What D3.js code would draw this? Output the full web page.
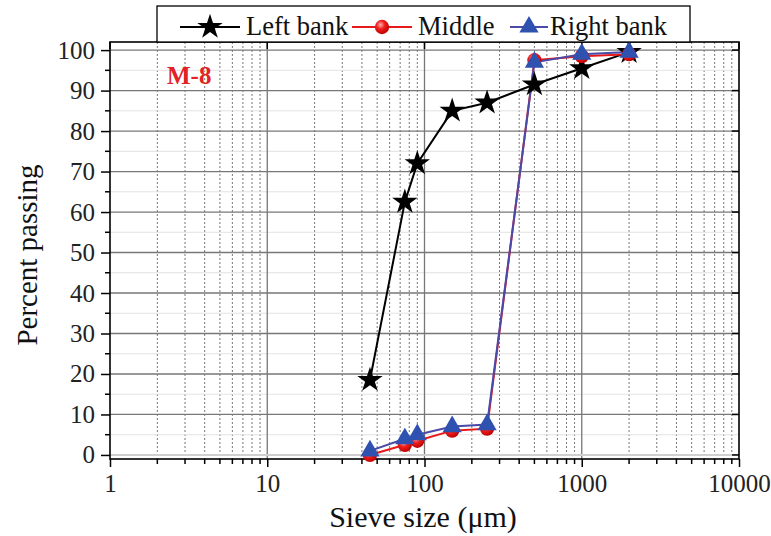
<!DOCTYPE html>
<html><head><meta charset="utf-8">
<script src="https://cdn.jsdelivr.net/npm/d3@7"></script>
<style>body{margin:0;background:#fff}svg{display:block}</style>
</head><body>
<svg id="c" width="771" height="536" font-family="'Liberation Serif', 'Times New Roman', serif"></svg>
<script>
const sieveSizes = [45, 75, 90, 150, 250, 500, 1000, 2000];
const leftBank  = [18.5, 62.5, 72, 85, 87, 91.5, 95.5, 99.5];
const middle    = [0, 2.5, 3.5, 6, 6.5, 97.5, 98.5, 99];
const rightBank = [1, 4, 5, 7, 7.5, 97, 99, 99.5];
const xTicks = [1, 10, 100, 1000, 10000];
const yTicks = [0, 10, 20, 30, 40, 50, 60, 70, 80, 90, 100];
const seriesNames = ["Left bank", "Middle", "Right bank"];

const SERIF = "'Liberation Serif', 'Times New Roman', serif";
const svg = d3.select("#c");
const L = 110, R = 739, T = 42, B = 459;
const x = d3.scaleLog().domain([1, 10000]).range([L, R]);
const y = d3.scaleLinear().domain([-1, 102]).range([B, T]);

const minorX = [];
for (let d = 1; d < 10000; d *= 10) for (let k = 2; k <= 9; k++) minorX.push(d * k);
const minorY = d3.range(5, 100, 10);

const grid = svg.append("g");
grid.selectAll(".mx").data(minorX).join("line")
  .attr("x1", d => x(d)).attr("x2", d => x(d)).attr("y1", T).attr("y2", B)
  .attr("stroke", "#777").attr("stroke-width", 1).attr("stroke-dasharray", "2,2");
grid.selectAll(".my").data(minorY).join("line")
  .attr("x1", L).attr("x2", R).attr("y1", d => y(d)).attr("y2", d => y(d))
  .attr("stroke", "#e2e2e2").attr("stroke-width", 1);
grid.selectAll(".Mx").data(xTicks.slice(1, -1)).join("line")
  .attr("x1", d => x(d)).attr("x2", d => x(d)).attr("y1", T).attr("y2", B)
  .attr("stroke", "#777").attr("stroke-width", 1.3);
grid.selectAll(".My").data(yTicks).join("line")
  .attr("x1", L).attr("x2", R).attr("y1", d => y(d)).attr("y2", d => y(d))
  .attr("stroke", d => d === 0 ? "#cfcfcf" : "#777").attr("stroke-width", d => d === 0 ? 2 : 1.3);

// axes
const xAxis = d3.axisBottom(x).tickValues(xTicks).tickFormat(d3.format("d")).tickSize(8).tickPadding(7);
const gx = svg.append("g").attr("transform", `translate(0,${B})`).call(xAxis);
gx.append("g").selectAll("line").data(minorX).join("line")
  .attr("x1", d => x(d)).attr("x2", d => x(d)).attr("y1", 0).attr("y2", 5).attr("stroke", "#000").attr("stroke-width", 1.5);
const yAxis = d3.axisLeft(y).tickValues(yTicks).tickSize(9).tickPadding(6);
const gy = svg.append("g").attr("transform", `translate(${L},0)`).call(yAxis);
gy.append("g").selectAll("line").data(minorY).join("line")
  .attr("x1", 0).attr("x2", -5).attr("y1", d => y(d)).attr("y2", d => y(d)).attr("stroke", "#000").attr("stroke-width", 1.5);
[gx, gy].forEach(g => {
  g.attr("font-family", SERIF).attr("font-size", 25);
  g.select(".domain").remove();
  g.selectAll(".tick line").attr("stroke", "#000").attr("stroke-width", 1.5);
  g.selectAll(".tick text").attr("fill", "#222");
});
// top/right ticks
svg.append("g").selectAll("line").data(xTicks).join("line")
  .attr("x1", d => x(d)).attr("x2", d => x(d)).attr("y1", T).attr("y2", T + 7).attr("stroke", "#000").attr("stroke-width", 1.5);
svg.append("g").selectAll("line").data(yTicks).join("line")
  .attr("x1", R).attr("x2", R - 7).attr("y1", d => y(d)).attr("y2", d => y(d)).attr("stroke", "#000").attr("stroke-width", 1.5);
svg.append("rect").attr("x", L).attr("y", T).attr("width", R - L).attr("height", B - T)
  .attr("fill", "none").attr("stroke", "#000").attr("stroke-width", 1.6);

// gradient for red sphere
const defs = svg.append("defs");
const rg = defs.append("radialGradient").attr("id", "redball").attr("cx", "40%").attr("cy", "35%").attr("r", "65%");
rg.append("stop").attr("offset", "0%").attr("stop-color", "#ffb0b0");
rg.append("stop").attr("offset", "45%").attr("stop-color", "#f02020");
rg.append("stop").attr("offset", "100%").attr("stop-color", "#c00000");

const series = [
  {name: seriesNames[0], vals: leftBank, line: "#000", sym: d3.symbolStar, size: 200, fill: "#000"},
  {name: seriesNames[1], vals: middle, line: "#e8191b", sym: d3.symbolCircle, size: 160, fill: "url(#redball)"},
  {name: seriesNames[2], vals: rightBank, line: "#4a4aa8", sym: d3.symbolTriangle, size: 160, fill: "#2f52b0"}
];
const lineGen = d3.line().x(d => x(d[0])).y(d => y(d[1]));
series.forEach(s => {
  const pts = sieveSizes.map((v, i) => [v, s.vals[i]]);
  svg.append("path").datum(pts).attr("d", lineGen).attr("fill", "none").attr("stroke", s.line).attr("stroke-width", 2);
});
series.forEach(s => {
  const pts = sieveSizes.map((v, i) => [v, s.vals[i]]);
  svg.append("g").selectAll("path").data(pts).join("path")
    .attr("d", d3.symbol().type(s.sym).size(s.size))
    .attr("transform", d => `translate(${x(d[0])},${y(d[1])})`)
    .attr("fill", s.fill);
});

// legend
const lg = svg.append("g");
lg.append("rect").attr("x", 157).attr("y", 6).attr("width", 533).attr("height", 36)
  .attr("fill", "#fff").attr("stroke", "#000").attr("stroke-width", 1.3);
const legLine = [[180, 240], [352, 412], [510, 548]];
const legText = [246, 418, 550];
series.forEach((s, i) => {
  const [a, b] = legLine[i];
  lg.append("line").attr("x1", a).attr("x2", b).attr("y1", 27).attr("y2", 27).attr("stroke", s.line).attr("stroke-width", 2);
  lg.append("path").attr("d", d3.symbol().type(s.sym).size(s.size)()).attr("transform", `translate(${(a + b) / 2},27)`).attr("fill", s.fill);
  lg.append("text").attr("x", legText[i]).attr("y", 35).attr("font-size", 26.5).attr("fill", "#111").text(s.name);
});

svg.append("text").attr("x", 167).attr("y", 84).attr("font-size", 25).attr("font-weight", "bold").attr("fill", "#e32226").text("M-8");
svg.append("text").attr("x", 423).attr("y", 527).attr("text-anchor", "middle").attr("font-size", 30).attr("fill", "#111").text("Sieve size (μm)");
svg.append("text").attr("transform", `translate(37,255) rotate(-90)`).attr("text-anchor", "middle").attr("font-size", 29).attr("fill", "#111").text("Percent passing");
</script>
</body></html>
